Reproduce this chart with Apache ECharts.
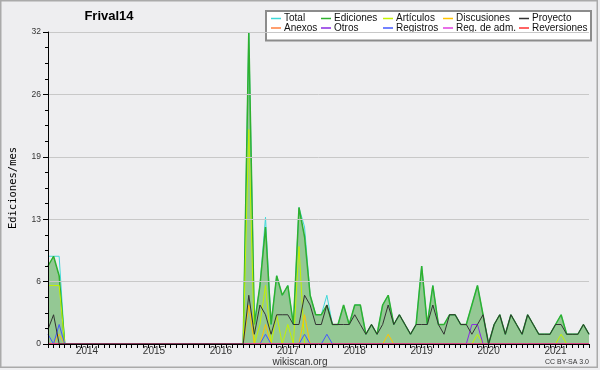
<!DOCTYPE html>
<html><head><meta charset="utf-8">
<script src="https://cdn.jsdelivr.net/npm/echarts@6/dist/echarts.min.js"></script>
<style>html,body{margin:0;padding:0;background:#eeeef0}#c{width:600px;height:370px}</style>
</head><body><div id="c"></div>
<script>
const months = [
 '2013-06','2013-07','2013-08','2013-09','2013-10','2013-11','2013-12',
 '2014-01','2014-02','2014-03','2014-04','2014-05','2014-06','2014-07','2014-08','2014-09','2014-10','2014-11','2014-12',
 '2015-01','2015-02','2015-03','2015-04','2015-05','2015-06','2015-07','2015-08','2015-09','2015-10','2015-11','2015-12',
 '2016-01','2016-02','2016-03','2016-04','2016-05','2016-06','2016-07','2016-08','2016-09','2016-10','2016-11','2016-12',
 '2017-01','2017-02','2017-03','2017-04','2017-05','2017-06','2017-07','2017-08','2017-09','2017-10','2017-11','2017-12',
 '2018-01','2018-02','2018-03','2018-04','2018-05','2018-06','2018-07','2018-08','2018-09','2018-10','2018-11','2018-12',
 '2019-01','2019-02','2019-03','2019-04','2019-05','2019-06','2019-07','2019-08','2019-09','2019-10','2019-11','2019-12',
 '2020-01','2020-02','2020-03','2020-04','2020-05','2020-06','2020-07','2020-08','2020-09','2020-10','2020-11','2020-12',
 '2021-01','2021-02','2021-03','2021-04','2021-05','2021-06','2021-07'];
const yearLabels = ['2014','2015','2016','2017','2018','2019','2020','2021'];
const yTickLabels = ['0','6','13','19','26','32'];

const total = [
 9,9,9,0,0,0,0,
 0,0,0,0,0,0,0,0,0,0,0,0,
 0,0,0,0,0,0,0,0,0,0,0,0,
 0,0,0,0,0,32,2,6,13,2,7,5,
 6,2,14,12,5,3,3,5,2,2,4,2,
 4,4,1,2,1,4,5,2,3,2,1,2,
 8,2,6,2,2,3,3,2,2,4,6,3,
 0,2,3,1,3,2,1,3,2,1,1,1,
 2,3,1,1,1,2,1];
const ediciones = [
 8,9,7,0,0,0,0,
 0,0,0,0,0,0,0,0,0,0,0,0,
 0,0,0,0,0,0,0,0,0,0,0,0,
 0,0,0,0,0,32,2,6,12,2,7,5,
 6,2,14,11,5,3,3,4,2,2,4,2,
 4,4,1,2,1,4,5,2,3,2,1,2,
 8,2,6,2,2,3,3,2,2,4,6,3,
 0,2,3,1,3,2,1,3,2,1,1,1,
 2,3,1,1,1,2,1];
const articulos = [
 6,6,6,0,0,0,0,
 0,0,0,0,0,0,0,0,0,0,0,0,
 0,0,0,0,0,0,0,0,0,0,0,0,
 0,0,0,0,0,22,0,2,6,0,3,0,
 2,0,10,0,0,0,0,0,0,0,0,0,
 0,0,0,0,0,0,0,0,0,0,0,0,
 0,0,0,0,0,0,0,0,0,0,1,0,
 0,0,0,0,0,0,0,0,0,0,0,0,
 0,1,0,0,0,0,0];
const discusiones = [
 0,0,1,0,0,0,0,
 0,0,0,0,0,0,0,0,0,0,0,0,
 0,0,0,0,0,0,0,0,0,0,0,0,
 0,0,0,0,0,4,0,0,2,0,0,0,
 0,0,0,3,0,0,0,0,0,0,0,0,
 0,0,0,0,0,0,1,0,0,0,0,0,
 0,0,0,0,0,0,0,0,0,0,0,0,
 0,0,0,0,0,0,0,0,0,0,0,0,
 0,0,0,0,0,0,0];
const proyecto = [
 1.5,3,0,0,0,0,0,
 0,0,0,0,0,0,0,0,0,0,0,0,
 0,0,0,0,0,0,0,0,0,0,0,0,
 0,0,0,0,0,5,1,4,3,1,3,3,
 3,2,2,5,4,2,2,4,2,2,2,2,
 3,2,1,2,1,2,4,2,3,2,1,2,
 2,2,4,2,1,3,3,2,2,1,2,3,
 0,2,3,1,3,2,1,3,2,1,1,1,
 2,2,1,1,1,2,1];
const anexos = months.map(() => 0);
const otros = [
 0,0,0,0,0,0,0,
 0,0,0,0,0,0,0,0,0,0,0,0,
 0,0,0,0,0,0,0,0,0,0,0,0,
 0,0,0,0,0,0,0,0,0,0,0,0,
 0,0,0,0,0,0,0,0,0,0,0,0,
 0,0,0,0,0,0,0,0,0,0,0,0,
 0,0,0,0,0,0,0,0,0,2,2,0,
 0,0,0,0,0,0,0,0,0,0,0,0,
 0,0,0,0,0,0,0];
const registros = [
 1,0,2,0,0,0,0,
 0,0,0,0,0,0,0,0,0,0,0,0,
 0,0,0,0,0,0,0,0,0,0,0,0,
 0,0,0,0,0,0,0,0,1,0,0,0,
 0,0,0,1,0,0,0,1,0,0,0,0,
 0,0,0,0,0,0,0,0,0,0,0,0,
 0,0,0,0,0,0,0,0,0,0,0,0,
 0,0,0,0,0,0,0,0,0,0,0,0,
 0,0,0,0,0,0,0];
const regAdm = months.map(() => 0);
const reversiones = months.map(() => 0);

const seriesDefs = [
 ['Total', total, '#3fd8d8'],
 ['Ediciones', ediciones, '#2fb02f'],
 ['Artículos', articulos, '#c4f200'],
 ['Discusiones', discusiones, '#ffc400'],
 ['Proyecto', proyecto, '#333333'],
 ['Anexos', anexos, '#ff7f3f'],
 ['Otros', otros, '#8a2be2'],
 ['Registros', registros, '#4458ff'],
 ['Reg. de adm.', regAdm, '#e040e0'],
 ['Reversiones', reversiones, '#ff3030']
];

const chart = echarts.init(document.getElementById('c'), null, {renderer:'canvas'});
const FONT = 'Liberation Sans';
const legendCols = [[271,'Total','Anexos'],[321,'Ediciones','Otros'],[383,'Artículos','Registros'],[443,'Discusiones','Reg. de adm.'],[519,'Proyecto','Reversiones']];

chart.setOption({
 animation:false,
 backgroundColor:'#eeeef0',
 grid:{left:46,right:11,top:32,bottom:26},
 graphic:[
  {type:'rect',z:0,silent:true,shape:{x:0.75,y:0.75,width:596.5,height:366.5},style:{fill:'none',stroke:'#aaaaaa',lineWidth:1.5}},
  {type:'rect',z:3,silent:true,shape:{x:266,y:11,width:325,height:29.5},style:{fill:'#ffffff',stroke:'#8c8c8c',lineWidth:2}},
  {type:'text',silent:true,style:{text:'Frival14',x:109,y:16.5,textAlign:'center',textVerticalAlign:'middle',fontSize:13,fontWeight:'bold',fontFamily:FONT,fill:'#000'}},
  {type:'text',silent:true,style:{text:'wikiscan.org',x:300,y:362,textAlign:'center',textVerticalAlign:'middle',fontSize:10,fontFamily:FONT,fill:'#333'}},
  {type:'text',silent:true,style:{text:'CC BY-SA 3.0',x:589,y:362.5,textAlign:'right',textVerticalAlign:'middle',fontSize:7,fontFamily:FONT,fill:'#333'}}
 ],
 legend: legendCols.map(c => ({
  data:[c[1],c[2]], orient:'vertical', left:c[0], top:13.5, padding:0, itemGap:-0.5,
  itemWidth:10, itemHeight:1.5, icon:'rect', selectedMode:false, z:5,
  textStyle:{fontSize:10, fontFamily:FONT, color:'#111', lineHeight:10, padding:[0,0,0,-2]}
 })),
 xAxis:{
  type:'category', data:months, boundaryGap:false, z:10,
  axisLine:{lineStyle:{color:'#000',width:1}},
  axisTick:{show:true, interval:0, length:4, lineStyle:{color:'#000'}},
  axisLabel:{
   interval:(i,v)=> v.endsWith('-01') && yearLabels.includes(v.slice(0,4)),
   formatter:v=>v.slice(0,4), fontSize:10, fontFamily:FONT, color:'#333', margin:2
  },
  splitLine:{show:false}
 },
 yAxis:{
  type:'value', min:0, max:32, interval:6.4, z:10,
  name:'Ediciones/mes', nameLocation:'middle', nameGap:29,
  nameTextStyle:{fontFamily:'DejaVu Sans Mono', fontSize:10.5, color:'#000'},
  axisLine:{show:true, lineStyle:{color:'#000'}},
  axisTick:{show:true, length:5, lineStyle:{color:'#000'}},
  minorTick:{show:true, splitNumber:4, length:3, lineStyle:{color:'#000'}},
  axisLabel:{fontSize:8.5, fontFamily:FONT, color:'#333', margin:7,
   formatter:v=>{const k=Math.round(v/6.4); return yTickLabels[k] !== undefined ? yTickLabels[k] : '';}},
  splitLine:{show:true, lineStyle:{color:'#c8c8c8', width:1}}
 },
 series: seriesDefs.map((d,idx)=>({
  name:d[0], type:'line', data:d[1], showSymbol:false, symbol:'none',
  itemStyle:{color:d[2]},
  lineStyle:{color:d[2], width: idx===1?1.5:1},
  areaStyle: idx===1 ? {color:'#94c894', opacity:1} : undefined,
  z: idx===4 ? 4 : 2
 }))
});
</script></body></html>
